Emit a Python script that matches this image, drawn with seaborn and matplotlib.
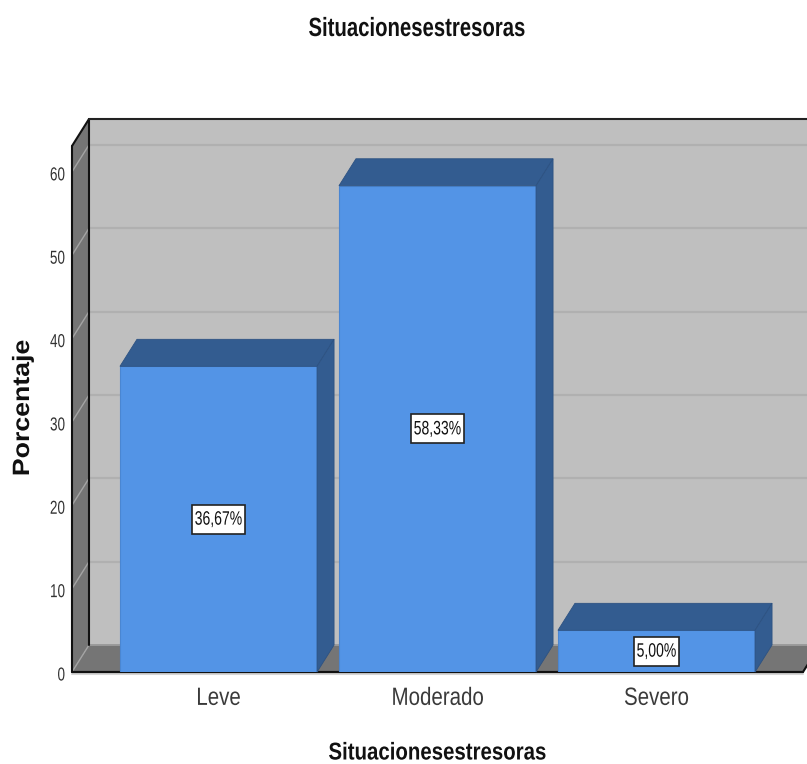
import matplotlib
matplotlib.use("Agg")
import matplotlib.pyplot as plt
from matplotlib.patches import Polygon, Rectangle
from matplotlib.lines import Line2D
from matplotlib.patheffects import AbstractPathEffect
from matplotlib.transforms import Affine2D, IdentityTransform
import pandas as pd
import seaborn as sns

categories = ["Leve", "Moderado", "Severo"]
percentages = [36.67, 58.33, 5.00]
y_ticks = [0, 10, 20, 30, 40, 50, 60]
title_text = "Situacionesestresoras"
y_label = "Porcentaje"

W, H = 807, 764
DEPTH_X, DEPTH_Y = 17, 27   # pixel shift from the front plane to the back wall

FRONT = "#5394e6"
SHADE = "#335c90"
WALL = "#bfbfbf"
SIDE = "#757575"
GRID = "#b0b0b0"
DIAG = "#a4a4a4"

sns.set_theme(style="white")
plt.rcParams["font.family"] = ["Liberation Sans", "DejaVu Sans"]


class Stretch(AbstractPathEffect):
    """Rescale drawn glyphs about a fixed pixel position, giving condensed type."""

    def __init__(self, sx, sy, cx, cy, dy=0):
        super().__init__()
        self.matrix = (Affine2D().translate(-cx, -cy).scale(sx, sy)
                       .translate(cx, cy + dy))

    def draw_path(self, renderer, gc, tpath, affine, rgbFace=None):
        renderer.draw_path(gc, tpath, affine + self.matrix, rgbFace)


def condense(text, sx, sy=1.0, anchor="center", dy=0):
    box = text.get_window_extent(fig.canvas.get_renderer())
    cx = box.x1 if anchor == "right" else (box.x0 + box.x1) / 2
    cy = (box.y0 + box.y1) / 2
    text.set_path_effects([Stretch(sx, sy, cx, cy, dy)])


fig = plt.figure(figsize=(W / 100, H / 100), dpi=100, facecolor="white")
ax = fig.add_axes([72 / W, 1 - 672 / H, (803 - 72) / W, (672 - 146) / H])
ax.patch.set_alpha(0)

df = pd.DataFrame({"Situación": categories, "Porcentaje": percentages})
sns.barplot(data=df, x="Situación", y="Porcentaje", color=FRONT, saturation=1,
            width=0.9, ax=ax, zorder=6, edgecolor="#4a86d2", linewidth=0.8)
ax.set_xlim(-0.669, 2.669)
ax.set_ylim(0, 63.1)
ax.set_yticks(y_ticks)
sns.despine(ax=ax, left=True, bottom=True, top=True, right=True)
ax.grid(False)
ax.set_xlabel("")
ax.set_ylabel("")
ax.tick_params(axis="y", length=0, pad=5, labelsize=13.5, labelcolor="#333333")
ax.tick_params(axis="x", length=0, pad=10, labelsize=18, labelcolor="#3a3a3a")
fig.canvas.draw()


def to_px(x, y):
    return ax.transData.transform((x, y))


def back(p):
    return (p[0] + DEPTH_X, p[1] + DEPTH_Y)


def face(points, color, z, edge="none", lw=0):
    fig.add_artist(Polygon(points, closed=True, facecolor=color, edgecolor=edge,
                           linewidth=lw, transform=None, zorder=z))


def stroke(p, q, color, lw, z):
    fig.add_artist(Line2D([p[0], q[0]], [p[1], q[1]], color=color, linewidth=lw,
                          transform=None, zorder=z))


x0, x1 = ax.get_xlim()
y0, y1 = ax.get_ylim()
bl, br, tl, tr = to_px(x0, y0), to_px(x1, y0), to_px(x0, y1), to_px(x1, y1)

# Room: back wall, floor and left wall
face([back(bl), back(br), back(tr), back(tl)], WALL, -5)
face([bl, br, back(br), back(bl)], SIDE, -4)
face([bl, back(bl), back(tl), tl], SIDE, -4)

# Gridlines run along the back wall and down the left wall
for v in y_ticks[1:]:
    a, b = to_px(x0, v), to_px(x1, v)
    stroke(back(a), back(b), GRID, 1.6, -4.5)
    stroke(a, back(a), DIAG, 1.0, -3.5)
stroke(bl, back(bl), DIAG, 1.0, -3.5)
stroke(back(bl), back(br), "#9a9a9a", 1.4, -3.5)

# Room outline
stroke(bl, tl, "#111111", 1.5, -3)
stroke(tl, back(tl), "#111111", 1.5, -3)
stroke(back(tl), back(bl), "#111111", 1.5, -3)
stroke(back(tl), back(tr), "#222222", 1.5, -3)
stroke(br, back(br), "#111111", 1.5, -3)
stroke((bl[0], bl[1] - 1.5), (br[0], br[1] - 1.5), "#d6d6d6", 1.5, -3.2)
stroke(bl, br, "#111111", 1.6, -3)

# Top and side faces extruded from each bar, plus its boxed value label
for bar, value in zip(ax.patches, percentages):
    left, width = bar.get_x(), bar.get_width()
    fl, fr = to_px(left, 0), to_px(left + width, 0)
    tl_b, tr_b = to_px(left, value), to_px(left + width, value)
    face([tl_b, tr_b, back(tr_b), back(tl_b)], SHADE, 4, "#2d5282", 0.6)
    face([fr, back(fr), back(tr_b), tr_b], SHADE, 4, "#2d5282", 0.6)

    label = ax.text(left + width / 2, value / 2, f"{value:.2f}%".replace(".", ","),
                    ha="center", va="center", fontsize=14, color="#111111", zorder=9)
    condense(label, 0.72, dy=-1)
    ext = label.get_window_extent(fig.canvas.get_renderer())
    mid_x, mid_y = to_px(left + width / 2, value / 2)
    box_w, box_h = ext.width * 0.72 + 5, 29
    ax.add_patch(Rectangle((mid_x - box_w / 2, mid_y - box_h / 2), box_w, box_h,
                           facecolor="white", edgecolor="#222222", linewidth=1.2,
                           transform=IdentityTransform(), zorder=8))

for tick in ax.get_yticklabels():
    condense(tick, 0.72, anchor="right", dy=-2)
for tick in ax.get_xticklabels():
    condense(tick, 0.82)

title = fig.text(417 / W, 1 - 29 / H, title_text, ha="center", va="center",
                 fontsize=19, fontweight="bold", color="#111111")
condense(title, 0.77)
xlab = fig.text(437.5 / W, 1 - 753 / H, title_text, ha="center", va="center",
                fontsize=17.5, fontweight="bold", color="#111111")
condense(xlab, 0.84)
ylab = fig.text(22.5 / W, 1 - 408 / H, y_label, rotation=90, ha="center", va="center",
                fontsize=17, fontweight="bold", color="#111111")
condense(ylab, 1.0, sy=1.13)

fig.savefig("out.png", dpi=100, facecolor="white")
